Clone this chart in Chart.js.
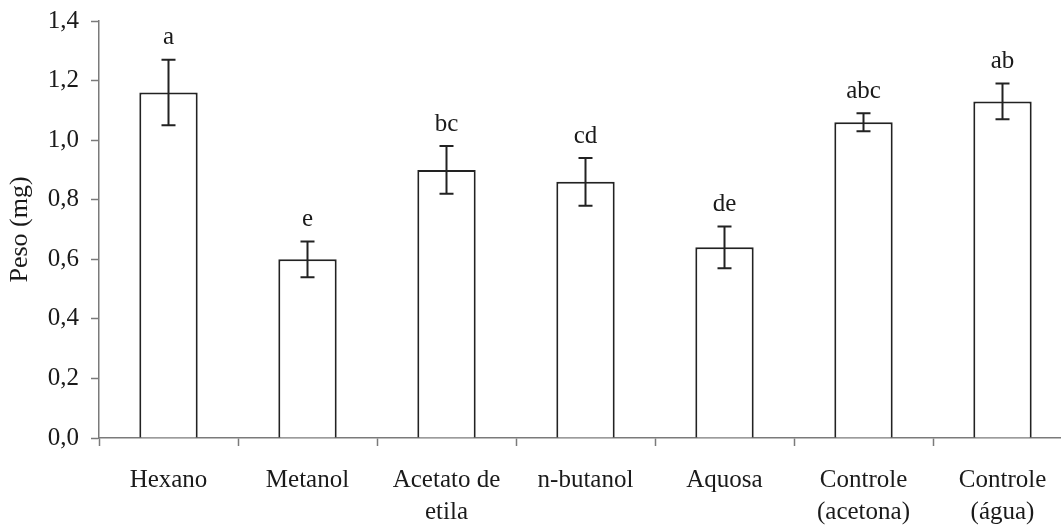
<!DOCTYPE html>
<html>
<head>
<meta charset="utf-8">
<script src="https://cdn.jsdelivr.net/npm/chart.js@4/dist/chart.umd.min.js"></script>
<style>
  html, body { margin: 0; padding: 0; background: #fff; overflow: hidden; }
</style>
</head>
<body>
<canvas id="pesoChart" width="1080" height="526"></canvas>
<script>
const categorias = ['Hexano', 'Metanol', ['Acetato de', 'etila'], 'n-butanol', 'Aquosa', ['Controle', '(acetona)'], ['Controle', '(água)']];
const pesos = [1.16, 0.60, 0.90, 0.86, 0.64, 1.06, 1.13];
const erros = [0.11, 0.06, 0.08, 0.08, 0.07, 0.03, 0.06];
const letras = ['a', 'e', 'bc', 'cd', 'de', 'abc', 'ab'];

const fonte = 'Liberation Serif, Times New Roman, serif';
const corTexto = '#1a1a1a';
const corEixo = '#7a7a7a';

// barras de erro e letras da comparacao de medias
const errorBars = {
    id: 'errorBars',
    afterDatasetsDraw(chart) {
        const ctx = chart.ctx;
        const y = chart.scales.y;
        const meta = chart.getDatasetMeta(0);
        ctx.save();
        ctx.strokeStyle = '#222';
        ctx.lineWidth = 2;
        meta.data.forEach((bar, i) => {
            const topo = y.getPixelForValue(pesos[i] + erros[i]);
            const base = y.getPixelForValue(pesos[i] - erros[i]);
            ctx.beginPath();
            ctx.moveTo(bar.x, topo);
            ctx.lineTo(bar.x, base);
            ctx.moveTo(bar.x - 7, topo);
            ctx.lineTo(bar.x + 7, topo);
            ctx.moveTo(bar.x - 7, base);
            ctx.lineTo(bar.x + 7, base);
            ctx.stroke();
            ctx.fillStyle = corTexto;
            ctx.font = '25px ' + fonte;
            ctx.textAlign = 'center';
            ctx.textBaseline = 'middle';
            ctx.fillText(letras[i], bar.x, topo - 22);
        });
        ctx.restore();
    }
};

const ctx = document.getElementById('pesoChart').getContext('2d');
const pesoChart = new Chart(ctx, {
    type: 'bar',
    data: {
        labels: categorias,
        datasets: [{
            data: pesos,
            backgroundColor: '#ffffff',
            borderColor: '#222222',
            borderWidth: 2,
            categoryPercentage: 1.0,
            barPercentage: 0.42
        }]
    },
    options: {
        responsive: false,
        animation: false,
        layout: {
            padding: { top: 21, right: 8, left: 0, bottom: 0 }
        },
        scales: {
            x: {
                afterFit: (s) => { s.height = 88; },
                grid: {
                    offset: true,
                    drawOnChartArea: false,
                    drawTicks: true,
                    tickLength: 8,
                    tickColor: corEixo,
                    tickWidth: 1.5
                },
                border: { display: true, color: corEixo, width: 1.5 },
                ticks: {
                    color: corTexto,
                    font: { family: fonte, size: 25, lineHeight: 1.28 },
                    padding: 18,
                    maxRotation: 0,
                    autoSkip: false
                }
            },
            y: {
                min: 0,
                max: 1.4,
                afterFit: (s) => { s.width = 99; s.paddingTop = 0; s.paddingBottom = 0; },
                grid: {
                    drawOnChartArea: false,
                    drawTicks: true,
                    tickLength: 8,
                    tickColor: corEixo,
                    tickWidth: 1.5
                },
                border: { display: true, color: corEixo, width: 1.5 },
                ticks: {
                    stepSize: 0.2,
                    color: corTexto,
                    font: { family: fonte, size: 25 },
                    padding: 12,
                    callback: (v) => v.toFixed(1).replace('.', ',')
                },
                title: {
                    display: true,
                    text: 'Peso (mg)',
                    color: corTexto,
                    font: { family: fonte, size: 26 },
                    padding: { top: 5, bottom: 0 }
                }
            }
        },
        plugins: {
            legend: { display: false },
            tooltip: { enabled: false }
        }
    },
    plugins: [errorBars]
});
</script>
</body>
</html>
